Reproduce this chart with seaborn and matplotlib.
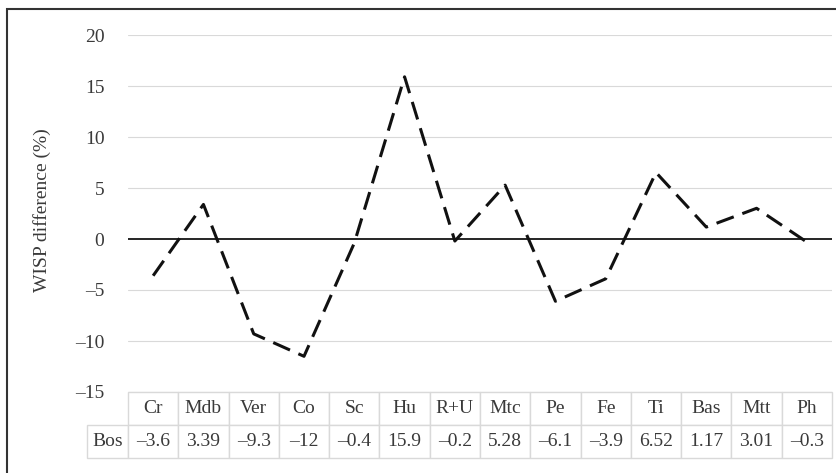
# WISP差分のライン + データテーブル図

import matplotlib.pyplot as plt
from matplotlib.patches import Rectangle
import pandas as pd
import seaborn as sns


categories = ["Cr", "Mdb", "Ver", "Co", "Sc", "Hu", "R+U", "Mtc", "Pe", "Fe", "Ti", "Bas", "Mtt", "Ph"]
values = [-3.6, 3.39, -9.3, -11.5, -0.4, 15.9, -0.2, 5.28, -6.1, -3.9, 6.52, 1.17, 3.01, -0.3]
table_labels = ["–3.6", "3.39", "–9.3", "–12", "–0.4", "15.9", "–0.2", "5.28",
                "–6.1", "–3.9", "6.52", "1.17", "3.01", "–0.3"]
series_name = "Bos"
y_ticks = [-15, -10, -5, 0, 5, 10, 15, 20]
y_label = "WISP difference (%)"

TEXT_COLOR = "#3a3a3a"
GRID_COLOR = "#d9d9d9"


def setup_plot_style() -> None:
    sns.set_theme(style="white")
    plt.rcParams["font.family"] = ["Liberation Serif", "DejaVu Serif"]
    plt.rcParams["text.color"] = TEXT_COLOR
    plt.rcParams["axes.labelcolor"] = TEXT_COLOR
    plt.rcParams["ytick.color"] = TEXT_COLOR


if __name__ == "__main__":
    setup_plot_style()

    W, H = 837, 473
    fig = plt.figure(figsize=(W / 100, H / 100), dpi=100)
    # plot area in pixels: x 128..832, y 35..392
    left, right, top, bottom = 128, 832, 35, 392
    ax = fig.add_axes([left / W, 1 - bottom / H, (right - left) / W, (bottom - top) / H])

    df = pd.DataFrame({"category": categories, "value": values})
    for t in y_ticks:
        if t != 0:
            ax.axhline(t, color=GRID_COLOR, linewidth=0.8, zorder=0)
    ax.axhline(0, color="#000000", linewidth=1.2, zorder=1)

    sns.lineplot(
        data=df,
        x="category",
        y="value",
        sort=False,
        color="#111111",
        linewidth=2.2,
        ax=ax,
        zorder=3,
    )
    ax.lines[-1].set_dashes((6, 3))

    ax.set_xlim(-0.5, len(categories) - 0.5)
    ax.set_ylim(min(y_ticks), max(y_ticks))
    ax.set_yticks(y_ticks)
    ax.set_yticklabels([str(t).replace("-", "–") for t in y_ticks], fontsize=14)
    ax.tick_params(axis="y", length=0, pad=17)
    ax.set_xticks([])
    ax.set_xlabel("")
    ax.set_ylabel(y_label, fontsize=14)
    ax.yaxis.set_label_coords(-0.11, 0.51)
    for s in ax.spines.values():
        s.set_visible(False)

    # data table under the plot
    first_w = (128 - 87) / (right - left)
    col_w = 1 / len(categories)
    tbl_h = (458 - 392) / (bottom - top)
    table = ax.table(
        cellText=[[""] + categories, [series_name] + table_labels],
        cellLoc="center",
        colWidths=[first_w] + [col_w] * len(categories),
        bbox=[-first_w, -tbl_h, 1 + first_w, tbl_h],
    )
    table.auto_set_font_size(False)
    table.set_fontsize(14)
    for (r, c), cell in table.get_celld().items():
        cell.set_edgecolor(GRID_COLOR)
        cell.set_linewidth(1.0)
        cell.get_text().set_color(TEXT_COLOR)
        if r == 0 and c == 0:
            cell.visible_edges = ""

    # outer chart border (top and left visible)
    fig.patches.append(
        Rectangle((7 / W, -0.2), 1.3, 1.2 - 9 / H, transform=fig.transFigure,
                  fill=False, edgecolor="#333333", linewidth=1.5, clip_on=False)
    )

    fig.savefig("out.png", dpi=100)
    plt.close(fig)
